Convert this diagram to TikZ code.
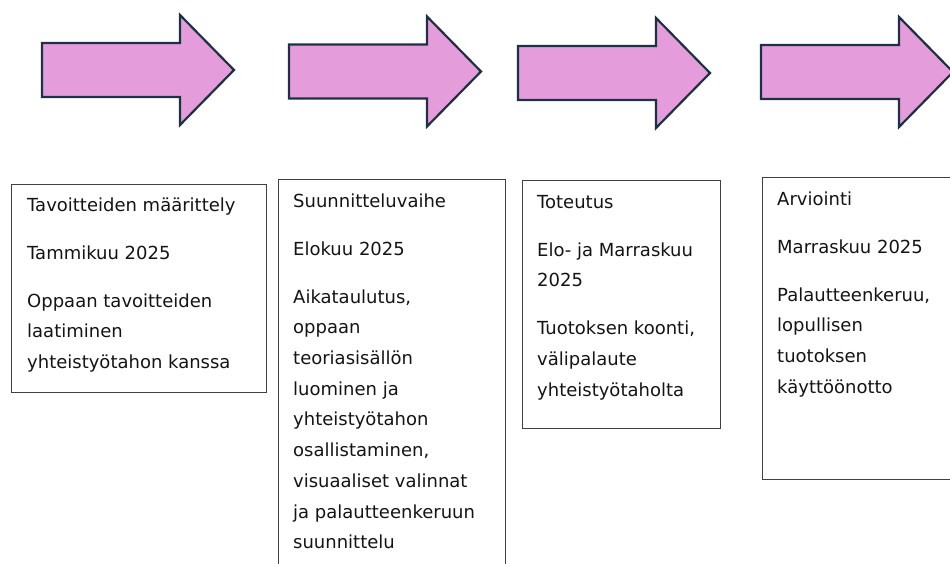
\documentclass[tikz,border=0pt]{standalone}
\usepackage{fontspec}
\setmainfont{DejaVu Sans}
\usetikzlibrary{positioning}
\definecolor{phasepink}{HTML}{E49DDA}
\definecolor{phaseline}{HTML}{1C3244}
\tikzset{
  phasearrow/.style = {fill=phasepink, draw=phaseline, line width=2.2pt,
    line join=miter},
  phasebox/.style = {draw=black!75, line width=1.4pt, anchor=north west,
    inner sep=0pt},
  phasetext/.style = {anchor=north west, align=left, inner sep=0pt,
    text=black!92, font=\fontsize{18}{30.7}\selectfont}
}

\begin{document}
\begin{tikzpicture}[x=1pt, y=-1pt]
\useasboundingbox (0,0) rectangle (950,564);
\clip (0,0) rectangle (950,564);
\foreach \ax/\ay in {42/70, 289/71.5, 518/73, 761/72}
  \draw[phasearrow] (\ax,\ay-27) -- ++(138,0) -- ++(0,-28) -- (\ax+192,\ay)
    -- (\ax+138,\ay+55) -- ++(0,-28) -- (\ax,\ay+27) -- cycle;

\node[phasebox, minimum width=255pt, minimum height=208pt] (tavoite) at (11,184) {};
\node[phasebox, minimum width=227pt, minimum height=400pt] (suunnittelu) at (278,179) {};
\node[phasebox, minimum width=198pt, minimum height=248pt] (toteutus) at (522,180) {};
\node[phasebox, minimum width=250pt, minimum height=302pt] (arviointi) at (762,177) {};

\node[phasetext] (tavoiteteksti) at (27,189.5) {\strut Tavoitteiden määrittely\\[17.3pt]
  Tammikuu 2025\\[17.3pt]
  Oppaan tavoitteiden\\ laatiminen\\ yhteistyötahon kanssa};
\node[phasetext] (suunnitteluteksti) at (293,185.5) {\strut Suunnitteluvaihe\\[17.3pt]
  Elokuu 2025\\[17.3pt]
  Aikataulutus,\\ oppaan\\ teoriasisällön\\ luominen ja\\ yhteistyötahon\\
  osallistaminen,\\ visuaaliset valinnat\\ ja palautteenkeruun\\ suunnittelu};
\node[phasetext] (toteutusteksti) at (537,186.5) {\strut Toteutus\\[17.3pt]
  Elo- ja Marraskuu\\ 2025\\[17.3pt]
  Tuotoksen koonti,\\ välipalaute\\ yhteistyötaholta};
\node[phasetext] (arviointiteksti) at (777,183.5) {\strut Arviointi\\[17.3pt]
  Marraskuu 2025\\[17.3pt]
  Palautteenkeruu,\\ lopullisen\\ tuotoksen\\ käyttöönotto};
\end{tikzpicture}
\end{document}
